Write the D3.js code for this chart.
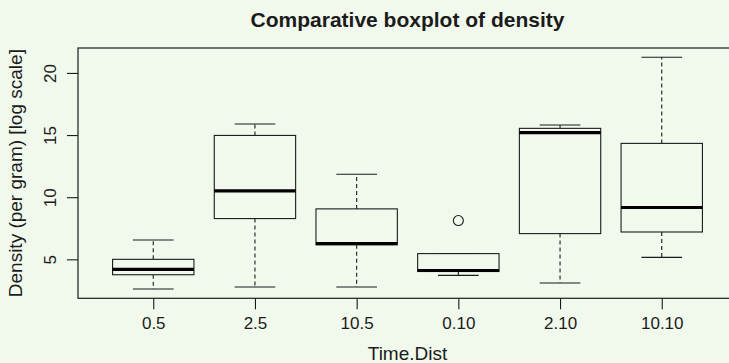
<!DOCTYPE html>
<html>
<head>
<meta charset="utf-8">
<script src="https://cdn.jsdelivr.net/npm/d3@7"></script>
<style>
  html, body { margin: 0; padding: 0; background: #F1F9EC; }
  svg { display: block; font-family: "Liberation Sans", Arial, Helvetica, sans-serif; }
</style>
</head>
<body>
<svg id="chart" width="729" height="363"></svg>
<script>
// Groups (Time.Dist) and five-number summaries of density per group
const categories = ["0.5", "2.5", "10.5", "0.10", "2.10", "10.10"];
const whiskerLow  = [2.61, 2.77, 2.77, 3.71, 3.09, 5.16];
const lowerQuart  = [3.76, 8.28, 6.18, 4.02, 7.07, 7.20];
const medians     = [4.19, 10.51, 6.27, 4.10, 15.19, 9.17];
const upperQuart  = [5.00, 14.97, 9.06, 5.46, 15.54, 14.33];
const whiskerHigh = [6.56, 15.89, 11.85, 5.46, 15.81, 21.26];
const outliers    = [[], [], [], [8.12], [], []];
const yTicks = [5, 10, 15, 20];

const svg = d3.select("#chart");
const plot = { left: 78, right: 737, top: 48, bottom: 298.3 };
const ink = "#1b1b1b";

// R-style ranges: positions 1..n padded by 0.5, then extended by 4%
const n = categories.length;
const xr = [0.5, n + 0.5];
const xpad = (xr[1] - xr[0]) * 0.04;
const x = d3.scaleLinear().domain([xr[0] - xpad, xr[1] + xpad]).range([plot.left, plot.right]);

const allVals = whiskerLow.concat(whiskerHigh, outliers.flat());
const ymin = d3.min(allVals), ymax = d3.max(allVals);
const ypad = (ymax - ymin) * 0.04;
const y = d3.scaleLinear().domain([ymin - ypad, ymax + ypad]).range([plot.bottom, plot.top]);

const boxW = 0.8, stapleW = 0.4;
const data = categories.map((c, i) => ({
  cat: c, pos: i + 1,
  lo: whiskerLow[i], q1: lowerQuart[i], med: medians[i], q3: upperQuart[i], hi: whiskerHigh[i],
  out: outliers[i]
}));

const g = svg.append("g").attr("stroke", ink).attr("fill", "none");

const box = g.selectAll("g.box").data(data).join("g").attr("class", "box");

// dashed whiskers
box.append("line")
  .attr("x1", d => x(d.pos)).attr("x2", d => x(d.pos))
  .attr("y1", d => y(d.q3)).attr("y2", d => y(d.hi))
  .attr("stroke-width", 1.1).attr("stroke-dasharray", "4,3");
box.append("line")
  .attr("x1", d => x(d.pos)).attr("x2", d => x(d.pos))
  .attr("y1", d => y(d.q1)).attr("y2", d => y(d.lo))
  .attr("stroke-width", 1.1).attr("stroke-dasharray", "4,3");

// staples
box.append("line")
  .attr("x1", d => x(d.pos - stapleW / 2)).attr("x2", d => x(d.pos + stapleW / 2))
  .attr("y1", d => y(d.hi)).attr("y2", d => y(d.hi))
  .attr("stroke-width", 1.1);
box.append("line")
  .attr("x1", d => x(d.pos - stapleW / 2)).attr("x2", d => x(d.pos + stapleW / 2))
  .attr("y1", d => y(d.lo)).attr("y2", d => y(d.lo))
  .attr("stroke-width", 1.1);

// boxes
box.append("rect")
  .attr("x", d => x(d.pos - boxW / 2))
  .attr("width", d => x(d.pos + boxW / 2) - x(d.pos - boxW / 2))
  .attr("y", d => y(d.q3))
  .attr("height", d => y(d.q1) - y(d.q3))
  .attr("fill", "#F1F9EC").attr("stroke-width", 1.1);

// medians
box.append("line")
  .attr("x1", d => x(d.pos - boxW / 2)).attr("x2", d => x(d.pos + boxW / 2))
  .attr("y1", d => y(d.med)).attr("y2", d => y(d.med))
  .attr("stroke", "#000").attr("stroke-width", 3.2);

// outliers
box.selectAll("circle").data(d => d.out.map(v => ({ pos: d.pos, v })))
  .join("circle")
  .attr("cx", d => x(d.pos)).attr("cy", d => y(d.v))
  .attr("r", 5).attr("stroke-width", 1.1);

// frame (right edge falls outside the visible area)
svg.append("rect")
  .attr("x", plot.left).attr("y", plot.top)
  .attr("width", plot.right - plot.left).attr("height", plot.bottom - plot.top)
  .attr("fill", "none").attr("stroke", ink).attr("stroke-width", 1.2);

// bottom axis
const xAxis = d3.axisBottom(x)
  .tickValues(data.map(d => d.pos))
  .tickFormat((d, i) => categories[i])
  .tickSize(11).tickPadding(8);
const gx = svg.append("g").attr("transform", `translate(0,${plot.bottom})`).call(xAxis);
gx.select(".domain").remove();
gx.selectAll(".tick line").attr("stroke", ink).attr("stroke-width", 1.1);
gx.selectAll(".tick text").attr("fill", ink).attr("font-size", 17)
  .attr("font-family", "Liberation Sans, Arial, sans-serif")
  .attr("dy", null).attr("y", 31);

// left axis
const yAxis = d3.axisLeft(y).tickValues(yTicks).tickFormat(d3.format("d")).tickSize(11);
const gy = svg.append("g").attr("transform", `translate(${plot.left},0)`).call(yAxis);
gy.select(".domain").remove();
gy.selectAll(".tick line").attr("stroke", ink).attr("stroke-width", 1.1);
gy.selectAll(".tick text").attr("fill", ink).attr("font-size", 17)
  .attr("font-family", "Liberation Sans, Arial, sans-serif")
  .attr("x", null).attr("dy", null)
  .attr("text-anchor", "middle")
  .attr("transform", "translate(-22,0) rotate(-90)");

// titles
const cx = (plot.left + plot.right) / 2;
svg.append("text")
  .attr("x", cx).attr("y", 27)
  .attr("text-anchor", "middle").attr("font-weight", "bold").attr("font-size", 21)
  .attr("fill", ink)
  .text("Comparative boxplot of density");

svg.append("text")
  .attr("x", cx).attr("y", 360)
  .attr("text-anchor", "middle").attr("font-size", 19)
  .attr("fill", ink)
  .text("Time.Dist");

svg.append("text")
  .attr("transform", `translate(22,${(plot.top + plot.bottom) / 2}) rotate(-90)`)
  .attr("text-anchor", "middle").attr("font-size", 19)
  .attr("fill", ink)
  .text("Density (per gram) [log scale]");
</script>
</body>
</html>
